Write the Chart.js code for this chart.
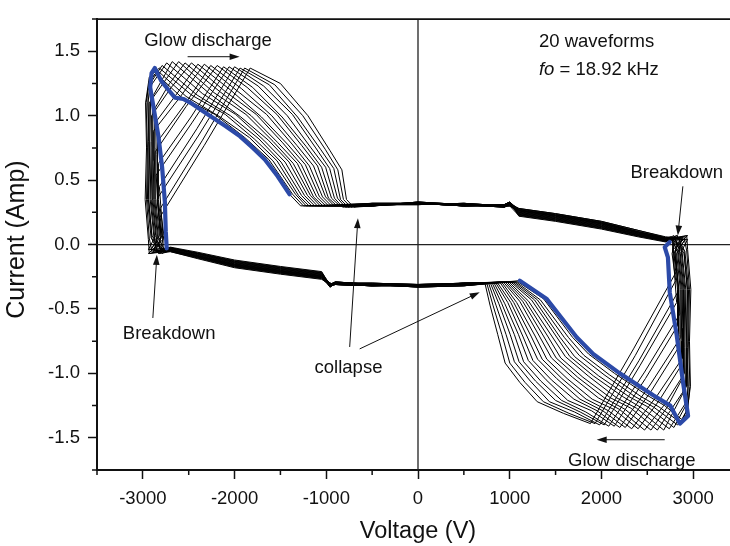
<!DOCTYPE html>
<html><head><meta charset="utf-8">
<script src="https://cdn.jsdelivr.net/npm/chart.js@4.4.0/dist/chart.umd.min.js"></script>
<style>
html,body{margin:0;padding:0;background:#fff;overflow:hidden;width:730px;height:546px;}
#wrap{position:absolute;left:0;top:0;width:739px;height:546px;}
</style></head><body>
<div id="wrap"><canvas id="c"></canvas></div>
<script>
// ---------------- data (voltage V, current A) ----------------
const xTickValues = [-3000,-2000,-1000,0,1000,2000,3000];
const xMinorTickValues = [-3500,-2500,-1500,-500,500,1500,2500,3500];
const yTickValues = [-1.5,-1.0,-0.5,0,0.5,1.0,1.5];
const yMinorTickValues = [-1.75,-1.25,-0.75,-0.25,0.25,0.75,1.25,1.75];

const wave00 = [[-2780,-0.06],[-2740,-0.03],[-2750,0.10],[-2760,0.33],[-2790,0.60],[-2830,0.84],[-2880,1.05],[-2920,1.22],[-2905,1.33],[-2870,1.37],[-2800,1.27],[-2720,1.20],[-2650,1.14],[-2560,1.13],[-2480,1.10],[-2270,1.00],[-2100,0.92],[-1940,0.84],[-1800,0.75],[-1670,0.66],[-1530,0.53],[-1400,0.39],[-1280,0.30],[-500,0.31],[0,0.32],[500,0.31],[940,0.30],[1000,0.32],[1100,0.25],[1500,0.21],[2000,0.15],[2400,0.08],[2700,0.04],[2745,0.02],[2690,-0.02],[2725,-0.10],[2745,-0.37],[2820,-0.70],[2890,-1.07],[2945,-1.33],[2855,-1.39],[2750,-1.25],[2565,-1.17],[2200,-1.00],[1910,-0.85],[1730,-0.72],[1400,-0.42],[1110,-0.28],[500,-0.32],[0,-0.33],[-500,-0.31],[-900,-0.29],[-960,-0.31],[-1050,-0.23],[-1500,-0.19],[-2000,-0.14],[-2400,-0.075],[-2700,-0.03]];
const wave01 = [[-2900,-0.06],[-2930,0.05],[-2960,0.35],[-2950,0.75],[-2965,1.10],[-2930,1.27],[-2860,1.33],[-2590,1.15],[-2214,1.01],[-1888,0.83],[-1626,0.66],[-1367,0.39],[-1249,0.30],[-500,0.30],[0,0.33],[500,0.31],[940,0.29],[1000,0.31],[1100,0.27],[1500,0.23],[2000,0.17],[2400,0.10],[2700,0.05],[2900,0.06],[2930,-0.05],[2960,-0.35],[2950,-0.75],[2965,-1.10],[2940,-1.28],[2880,-1.36],[2689,-1.25],[2498,-1.17],[2143,-1.00],[1860,-0.85],[1685,-0.72],[1368,-0.42],[1090,-0.29],[500,-0.31],[0,-0.31],[-500,-0.30],[-900,-0.30],[-960,-0.33],[-1050,-0.25],[-1500,-0.21],[-2000,-0.16],[-2400,-0.09],[-2700,-0.045]];
const wave02 = [[-2800,-0.04],[-2900,0.07],[-2940,0.35],[-2930,0.75],[-2945,1.10],[-2910,1.28],[-2840,1.35],[-2529,1.15],[-2157,0.99],[-1837,0.83],[-1582,0.65],[-1335,0.39],[-1219,0.30],[-500,0.32],[0,0.32],[500,0.30],[940,0.31],[1000,0.33],[1100,0.23],[1500,0.19],[2000,0.13],[2400,0.07],[2700,0.03],[2800,0.04],[2900,-0.07],[2940,-0.35],[2930,-0.75],[2945,-1.10],[2920,-1.30],[2860,-1.38],[2627,-1.26],[2432,-1.18],[2085,-1.01],[1809,-0.86],[1639,-0.72],[1335,-0.43],[1070,-0.29],[500,-0.30],[0,-0.32],[-500,-0.32],[-900,-0.31],[-960,-0.32],[-1050,-0.21],[-1500,-0.17],[-2000,-0.12],[-2400,-0.06],[-2700,-0.02]];
const wave03 = [[-2930,-0.07],[-2940,0.04],[-2975,0.35],[-2960,0.75],[-2970,1.10],[-2930,1.30],[-2820,1.37],[-2468,1.16],[-2101,1.01],[-1785,0.82],[-1537,0.65],[-1302,0.38],[-1188,0.30],[-500,0.31],[0,0.31],[500,0.32],[940,0.30],[1000,0.30],[1100,0.26],[1500,0.22],[2000,0.16],[2400,0.09],[2700,0.04],[2930,0.07],[2940,-0.04],[2975,-0.35],[2960,-0.75],[2970,-1.10],[2930,-1.32],[2830,-1.40],[2566,-1.26],[2365,-1.18],[2028,-1.01],[1758,-0.86],[1594,-0.72],[1303,-0.43],[1050,-0.29],[500,-0.31],[0,-0.32],[-500,-0.31],[-900,-0.30],[-960,-0.32],[-1050,-0.26],[-1500,-0.22],[-2000,-0.17],[-2400,-0.10],[-2700,-0.05]];
const wave04 = [[-2850,-0.05],[-2880,0.06],[-2920,0.35],[-2910,0.80],[-2920,1.25],[-2790,1.39],[-2408,1.16],[-2045,1.00],[-1734,0.82],[-1493,0.64],[-1269,0.38],[-1158,0.30],[-500,0.30],[0,0.32],[500,0.30],[940,0.30],[1000,0.32],[1100,0.28],[1500,0.24],[2000,0.18],[2400,0.11],[2700,0.06],[2850,0.05],[2880,-0.06],[2920,-0.35],[2910,-0.80],[2920,-1.25],[2790,-1.42],[2505,-1.26],[2299,-1.18],[1971,-1.02],[1708,-0.87],[1549,-0.72],[1271,-0.43],[1030,-0.29],[500,-0.30],[0,-0.31],[-500,-0.32],[-900,-0.31],[-960,-0.30],[-1050,-0.24],[-1500,-0.20],[-2000,-0.15],[-2400,-0.085],[-2700,-0.04]];
const wave05 = [[-2770,-0.06],[-2910,0.05],[-2950,0.35],[-2940,0.80],[-2945,1.20],[-2740,1.41],[-2347,1.17],[-1988,1.01],[-1682,0.81],[-1449,0.64],[-1237,0.38],[-1127,0.30],[-500,0.31],[0,0.32],[500,0.31],[940,0.30],[1000,0.32],[1100,0.24],[1500,0.20],[2000,0.14],[2400,0.08],[2700,0.03],[2770,0.06],[2910,-0.05],[2950,-0.35],[2940,-0.80],[2945,-1.20],[2740,-1.43],[2443,-1.27],[2232,-1.18],[1913,-1.02],[1657,-0.87],[1504,-0.71],[1238,-0.43],[1010,-0.29],[500,-0.32],[0,-0.33],[-500,-0.31],[-900,-0.29],[-960,-0.31],[-1050,-0.255],[-1500,-0.215],[-2000,-0.165],[-2400,-0.095],[-2700,-0.045]];
const wave06 = [[-2940,-0.04],[-2860,0.07],[-2900,0.35],[-2890,0.80],[-2895,1.15],[-2680,1.42],[-2287,1.18],[-1932,0.99],[-1631,0.81],[-1405,0.64],[-1204,0.38],[-1097,0.30],[-500,0.30],[0,0.33],[500,0.31],[940,0.29],[1000,0.31],[1100,0.265],[1500,0.225],[2000,0.165],[2400,0.095],[2700,0.05],[2940,0.04],[2860,-0.07],[2900,-0.35],[2890,-0.80],[2895,-1.15],[2680,-1.44],[2382,-1.27],[2166,-1.19],[1856,-1.02],[1607,-0.87],[1458,-0.71],[1206,-0.44],[990,-0.29],[500,-0.31],[0,-0.31],[-500,-0.30],[-900,-0.30],[-960,-0.33],[-1050,-0.22],[-1500,-0.18],[-2000,-0.13],[-2400,-0.07],[-2700,-0.025]];
const wave07 = [[-2820,-0.07],[-2900,0.04],[-2935,0.35],[-2925,0.80],[-2930,1.10],[-2610,1.42],[-2226,1.18],[-1876,1.01],[-1579,0.80],[-1361,0.63],[-1172,0.38],[-1066,0.30],[-500,0.32],[0,0.32],[500,0.30],[940,0.31],[1000,0.33],[1100,0.22],[1500,0.18],[2000,0.12],[2400,0.06],[2700,0.02],[2820,0.07],[2900,-0.04],[2935,-0.35],[2925,-0.80],[2930,-1.10],[2610,-1.44],[2321,-1.27],[2099,-1.19],[1798,-1.03],[1556,-0.88],[1413,-0.71],[1173,-0.44],[970,-0.29],[500,-0.30],[0,-0.32],[-500,-0.32],[-900,-0.31],[-960,-0.32],[-1050,-0.265],[-1500,-0.225],[-2000,-0.175],[-2400,-0.105],[-2700,-0.055]];
const wave08 = [[-2880,-0.05],[-2840,0.06],[-2880,0.35],[-2870,0.75],[-2875,1.05],[-2710,1.25],[-2540,1.41],[-2166,1.19],[-1819,1.00],[-1527,0.79],[-1316,0.63],[-1139,0.37],[-1036,0.30],[-500,0.31],[0,0.31],[500,0.32],[940,0.30],[1000,0.30],[1100,0.255],[1500,0.215],[2000,0.155],[2400,0.09],[2700,0.04],[2880,0.05],[2840,-0.06],[2880,-0.35],[2870,-0.75],[2875,-1.05],[2710,-1.27],[2540,-1.44],[2259,-1.28],[2032,-1.19],[1741,-1.03],[1506,-0.88],[1368,-0.71],[1141,-0.44],[950,-0.29],[500,-0.31],[0,-0.32],[-500,-0.31],[-900,-0.30],[-960,-0.32],[-1050,-0.235],[-1500,-0.195],[-2000,-0.145],[-2400,-0.08],[-2700,-0.035]];
const wave09 = [[-2760,-0.06],[-2870,0.05],[-2910,0.35],[-2900,0.75],[-2905,1.00],[-2690,1.22],[-2470,1.41],[-2105,1.19],[-1763,1.01],[-1476,0.79],[-1272,0.62],[-1106,0.37],[-1005,0.30],[-500,0.30],[0,0.32],[500,0.30],[940,0.30],[1000,0.32],[1100,0.275],[1500,0.235],[2000,0.175],[2400,0.10],[2700,0.05],[2760,0.06],[2870,-0.05],[2910,-0.35],[2900,-0.75],[2905,-1.00],[2690,-1.24],[2470,-1.44],[2198,-1.28],[1966,-1.19],[1684,-1.03],[1455,-0.88],[1323,-0.71],[1109,-0.44],[930,-0.29],[500,-0.30],[0,-0.31],[-500,-0.32],[-900,-0.31],[-960,-0.30],[-1050,-0.245],[-1500,-0.205],[-2000,-0.155],[-2400,-0.09],[-2700,-0.04]];
const wave10 = [[-2910,-0.04],[-2820,0.07],[-2860,0.35],[-2855,0.70],[-2860,0.95],[-2630,1.17],[-2400,1.40],[-2045,1.20],[-1707,0.99],[-1424,0.78],[-1228,0.62],[-1074,0.37],[-975,0.30],[-500,0.31],[0,0.32],[500,0.31],[940,0.30],[1000,0.32],[1100,0.235],[1500,0.195],[2000,0.135],[2400,0.07],[2700,0.03],[2910,0.04],[2820,-0.07],[2860,-0.35],[2855,-0.70],[2860,-0.95],[2630,-1.21],[2400,-1.43],[2137,-1.28],[1899,-1.20],[1626,-1.04],[1405,-0.89],[1277,-0.71],[1076,-0.45],[910,-0.29],[500,-0.32],[0,-0.33],[-500,-0.31],[-900,-0.29],[-960,-0.31],[-1050,-0.27],[-1500,-0.23],[-2000,-0.18],[-2400,-0.11],[-2700,-0.055]];
const wave11 = [[-2790,-0.07],[-2850,0.04],[-2890,0.35],[-2880,0.65],[-2885,0.88],[-2610,1.13],[-2330,1.40],[-1984,1.20],[-1651,1.01],[-1373,0.78],[-1184,0.61],[-1041,0.37],[-944,0.30],[-500,0.30],[0,0.33],[500,0.31],[940,0.29],[1000,0.31],[1100,0.245],[1500,0.205],[2000,0.145],[2400,0.08],[2700,0.035],[2790,0.07],[2850,-0.04],[2890,-0.35],[2880,-0.65],[2885,-0.88],[2610,-1.17],[2330,-1.43],[2076,-1.29],[1833,-1.20],[1569,-1.04],[1354,-0.89],[1232,-0.71],[1044,-0.45],[890,-0.29],[500,-0.31],[0,-0.31],[-500,-0.30],[-900,-0.30],[-960,-0.33],[-1050,-0.225],[-1500,-0.185],[-2000,-0.135],[-2400,-0.07],[-2700,-0.03]];
const wave12 = [[-2860,-0.05],[-2800,0.06],[-2845,0.35],[-2840,0.80],[-2550,1.08],[-2260,1.39],[-1924,1.21],[-1594,1.00],[-1321,0.77],[-1139,0.61],[-1008,0.37],[-914,0.30],[-500,0.32],[0,0.32],[500,0.30],[940,0.31],[1000,0.33],[1100,0.27],[1500,0.23],[2000,0.17],[2400,0.10],[2700,0.05],[2860,0.05],[2800,-0.06],[2845,-0.35],[2840,-0.80],[2550,-1.13],[2260,-1.42],[2014,-1.29],[1766,-1.20],[1512,-1.04],[1304,-0.89],[1187,-0.71],[1012,-0.45],[870,-0.30],[500,-0.30],[0,-0.32],[-500,-0.32],[-900,-0.31],[-960,-0.32],[-1050,-0.25],[-1500,-0.21],[-2000,-0.16],[-2400,-0.09],[-2700,-0.045]];
const wave13 = [[-2750,-0.06],[-2830,0.05],[-2870,0.35],[-2865,0.72],[-2530,1.07],[-2190,1.39],[-1863,1.22],[-1538,1.01],[-1269,0.77],[-1095,0.61],[-976,0.36],[-883,0.30],[-500,0.31],[0,0.31],[500,0.32],[940,0.30],[1000,0.30],[1100,0.225],[1500,0.185],[2000,0.125],[2400,0.065],[2700,0.025],[2750,0.06],[2830,-0.05],[2870,-0.35],[2865,-0.72],[2530,-1.09],[2200,-1.42],[1953,-1.29],[1700,-1.20],[1454,-1.05],[1253,-0.90],[1142,-0.71],[979,-0.45],[850,-0.30],[500,-0.31],[0,-0.32],[-500,-0.31],[-900,-0.30],[-960,-0.32],[-1050,-0.23],[-1500,-0.19],[-2000,-0.14],[-2400,-0.075],[-2700,-0.03]];
const wave14 = [[-2920,-0.04],[-2790,0.07],[-2830,0.35],[-2830,0.63],[-2475,0.99],[-2120,1.38],[-1803,1.22],[-1482,0.99],[-1218,0.76],[-1051,0.60],[-943,0.36],[-853,0.30],[-500,0.30],[0,0.32],[500,0.30],[940,0.30],[1000,0.32],[1100,0.26],[1500,0.22],[2000,0.16],[2400,0.09],[2700,0.045],[2920,0.04],[2790,-0.07],[2830,-0.35],[2830,-0.63],[2480,-1.04],[2140,-1.41],[1892,-1.29],[1633,-1.21],[1397,-1.05],[1203,-0.90],[1096,-0.70],[947,-0.46],[830,-0.30],[500,-0.30],[0,-0.31],[-500,-0.32],[-900,-0.31],[-960,-0.30],[-1050,-0.26],[-1500,-0.22],[-2000,-0.17],[-2400,-0.10],[-2700,-0.05]];
const wave15 = [[-2830,-0.07],[-2810,0.04],[-2855,0.54],[-2460,0.95],[-2060,1.38],[-1742,1.23],[-1425,1.00],[-1166,0.75],[-1007,0.60],[-911,0.36],[-822,0.29],[-500,0.31],[0,0.32],[500,0.31],[940,0.30],[1000,0.32],[1100,0.25],[1500,0.21],[2000,0.15],[2400,0.085],[2700,0.04],[2830,0.07],[2810,-0.04],[2855,-0.54],[2470,-0.99],[2080,-1.41],[1830,-1.30],[1566,-1.21],[1339,-1.06],[1152,-0.91],[1051,-0.70],[914,-0.46],[810,-0.30],[500,-0.32],[0,-0.33],[-500,-0.31],[-900,-0.29],[-960,-0.31],[-1050,-0.215],[-1500,-0.175],[-2000,-0.125],[-2400,-0.065],[-2700,-0.025]];
const wave16 = [[-2780,-0.05],[-2780,0.06],[-2820,0.45],[-2410,0.90],[-2000,1.38],[-1682,1.23],[-1369,1.01],[-1115,0.75],[-963,0.59],[-878,0.36],[-792,0.29],[-500,0.30],[0,0.33],[500,0.31],[940,0.29],[1000,0.31],[1100,0.28],[1500,0.24],[2000,0.18],[2400,0.11],[2700,0.055],[2780,0.05],[2780,-0.06],[2820,-0.45],[2420,-0.94],[2030,-1.40],[1769,-1.30],[1500,-1.21],[1282,-1.06],[1102,-0.91],[1006,-0.70],[882,-0.46],[790,-0.30],[500,-0.31],[0,-0.31],[-500,-0.30],[-900,-0.30],[-960,-0.33],[-1050,-0.24],[-1500,-0.20],[-2000,-0.15],[-2400,-0.085],[-2700,-0.04]];
const wave17 = [[-2890,-0.06],[-2800,0.05],[-2840,0.36],[-2390,0.85],[-1940,1.37],[-1621,1.24],[-1313,0.99],[-1063,0.74],[-918,0.59],[-845,0.35],[-761,0.29],[-500,0.32],[0,0.32],[500,0.30],[940,0.31],[1000,0.33],[1100,0.24],[1500,0.20],[2000,0.14],[2400,0.075],[2700,0.03],[2890,0.06],[2800,-0.05],[2840,-0.36],[2410,-0.90],[1980,-1.40],[1708,-1.30],[1433,-1.22],[1225,-1.06],[1051,-0.91],[961,-0.70],[850,-0.47],[770,-0.30],[500,-0.30],[0,-0.32],[-500,-0.32],[-900,-0.31],[-960,-0.32],[-1050,-0.255],[-1500,-0.215],[-2000,-0.165],[-2400,-0.095],[-2700,-0.045]];
const wave18 = [[-2810,-0.04],[-2770,0.07],[-2810,0.28],[-2350,0.81],[-1890,1.37],[-1561,1.24],[-1256,1.00],[-1012,0.74],[-874,0.58],[-813,0.35],[-731,0.29],[-500,0.31],[0,0.31],[500,0.32],[940,0.30],[1000,0.30],[1100,0.265],[1500,0.225],[2000,0.165],[2400,0.095],[2700,0.05],[2810,0.04],[2770,-0.07],[2810,-0.28],[2370,-0.86],[1930,-1.39],[1646,-1.31],[1367,-1.22],[1167,-1.07],[1001,-0.92],[915,-0.70],[817,-0.47],[750,-0.30],[500,-0.31],[0,-0.32],[-500,-0.31],[-900,-0.30],[-960,-0.32],[-1050,-0.22],[-1500,-0.18],[-2000,-0.13],[-2400,-0.07],[-2700,-0.025]];
const wave19 = [[-2940,-0.07],[-2780,0.04],[-2825,0.20],[-2330,0.77],[-1830,1.37],[-1500,1.25],[-1200,1.00],[-960,0.73],[-830,0.58],[-780,0.35],[-700,0.29],[-500,0.30],[0,0.32],[500,0.30],[940,0.30],[1000,0.32],[1100,0.23],[1500,0.19],[2000,0.13],[2400,0.07],[2700,0.025],[2940,0.07],[2780,-0.04],[2825,-0.20],[2350,-0.81],[1880,-1.39],[1585,-1.31],[1300,-1.22],[1110,-1.07],[950,-0.92],[870,-0.70],[785,-0.47],[730,-0.30],[500,-0.30],[0,-0.31],[-500,-0.32],[-900,-0.31],[-960,-0.30],[-1050,-0.245],[-1500,-0.205],[-2000,-0.155],[-2400,-0.09],[-2700,-0.04]];

// highlighted (blue) waveform, discharge portions
const blueUpper = [[-2740,-0.03],[-2750,0.10],[-2760,0.33],[-2790,0.60],[-2830,0.84],[-2880,1.05],[-2920,1.22],[-2905,1.33],[-2870,1.37],[-2800,1.27],[-2720,1.20],[-2650,1.14],[-2560,1.13],[-2480,1.10],[-2270,1.00],[-2100,0.92],[-1940,0.84],[-1800,0.75],[-1670,0.66],[-1530,0.53],[-1400,0.39]];
const blueLower = [[2745,0.02],[2690,-0.02],[2725,-0.10],[2745,-0.37],[2820,-0.70],[2890,-1.07],[2945,-1.33],[2855,-1.39],[2750,-1.25],[2565,-1.17],[2200,-1.00],[1910,-0.85],[1730,-0.72],[1400,-0.42],[1110,-0.28]];

const waveList = [wave00,wave01,wave02,wave03,wave04,wave05,wave06,wave07,wave08,wave09,
                  wave10,wave11,wave12,wave13,wave14,wave15,wave16,wave17,wave18,wave19];

// ---------------- chart ----------------
const FONT = "'Liberation Sans', Arial, Helvetica, sans-serif";
const TXT = '#111';
const toXY = arr => arr.map(p => ({x: p[0], y: p[1]}));

const datasets = [];
waveList.forEach(w => datasets.push({
  data: toXY(w.concat([w[0]])), showLine: true, borderColor: '#000', borderWidth: 1.0,
  pointRadius: 0, tension: 0, fill: false, order: 2
}));
[blueUpper, blueLower].forEach(b => datasets.push({
  data: toXY(b), showLine: true, borderColor: '#2c4aa8', borderWidth: 4.2,
  borderCapStyle: 'round', borderJoinStyle: 'round',
  pointRadius: 0, tension: 0, fill: false, order: 1
}));

function arrow(ctx, x1, y1, x2, y2) {
  const a = Math.atan2(y2 - y1, x2 - x1), L = 10, W = 3.3;
  ctx.beginPath(); ctx.moveTo(x1, y1);
  ctx.lineTo(x2 - L * 0.7 * Math.cos(a), y2 - L * 0.7 * Math.sin(a)); ctx.stroke();
  ctx.beginPath(); ctx.moveTo(x2, y2);
  ctx.lineTo(x2 - L * Math.cos(a) + W * Math.sin(a), y2 - L * Math.sin(a) - W * Math.cos(a));
  ctx.lineTo(x2 - L * Math.cos(a) - W * Math.sin(a), y2 - L * Math.sin(a) + W * Math.cos(a));
  ctx.closePath(); ctx.fill();
}

const labels = [
  {text: 'Glow discharge', x: -2985, y: 1.544},
  {text: '20 waveforms', x: 1319, y: 1.53},
  {text: 'Breakdown', x: 2316, y: 0.517},
  {text: 'Breakdown', x: -3218, y: -0.733},
  {text: 'collapse', x: -1128, y: -1.0},
  {text: 'Glow discharge', x: 1636, y: -1.72}
];
const arrows = [
  [-2512, 1.458, -1945, 1.458],
  [2888, 0.452, 2833, 0.07],
  [-2891, -0.57, -2847, -0.08],
  [-745, -0.795, -655, 0.205],
  [-636, -0.81, 673, -0.37],
  [2690, -1.515, 1948, -1.515]
];

const decor = {
  id: 'decor',
  beforeDatasetsDraw(chart) {
    const {ctx, chartArea: a, scales: {x, y}} = chart;
    ctx.save();
    ctx.strokeStyle = '#222'; ctx.lineWidth = 1.3;
    const y0 = y.getPixelForValue(0), x0 = x.getPixelForValue(0);
    ctx.beginPath();
    ctx.moveTo(a.left, y0); ctx.lineTo(a.right, y0);
    ctx.moveTo(x0, a.top); ctx.lineTo(x0, a.bottom);
    ctx.stroke();
    ctx.restore();
  },
  afterDraw(chart) {
    const {ctx, chartArea: a, scales: {x, y}} = chart;
    ctx.save();
    ctx.strokeStyle = TXT; ctx.fillStyle = TXT;
    // frame top/right
    ctx.lineWidth = 1.6;
    ctx.beginPath(); ctx.moveTo(a.left, a.top); ctx.lineTo(a.right, a.top); ctx.lineTo(a.right, a.bottom); ctx.stroke();
    // minor ticks
    ctx.lineWidth = 1.5;
    ctx.beginPath();
    xMinorTickValues.forEach(v => { const p = x.getPixelForValue(v); ctx.moveTo(p, a.bottom); ctx.lineTo(p, a.bottom + 5); });
    yMinorTickValues.forEach(v => { const p = y.getPixelForValue(v); ctx.moveTo(a.left, p); ctx.lineTo(a.left - 5, p); });
    ctx.stroke();
    // y axis title
    ctx.save();
    ctx.translate(17, (a.top + a.bottom) / 2 - 5);
    ctx.rotate(-Math.PI / 2);
    ctx.font = '25px ' + FONT; ctx.textAlign = 'center'; ctx.textBaseline = 'middle';
    ctx.fillText('Current (Amp)', 0, 0);
    ctx.restore();
    // annotations
    ctx.font = '18.5px ' + FONT;
    ctx.textBaseline = 'alphabetic'; ctx.textAlign = 'left';
    labels.forEach(l => ctx.fillText(l.text, x.getPixelForValue(l.x), y.getPixelForValue(l.y)));
    const fx = x.getPixelForValue(1319), fy = y.getPixelForValue(1.317);
    ctx.font = 'italic 18.5px ' + FONT;
    ctx.fillText('fo', fx, fy);
    const w = ctx.measureText('fo').width;
    ctx.font = '18.5px ' + FONT;
    ctx.fillText(' = 18.92 kHz', fx + w, fy);
    ctx.lineWidth = 1;
    arrows.forEach(r => arrow(ctx, x.getPixelForValue(r[0]), y.getPixelForValue(r[1]), x.getPixelForValue(r[2]), y.getPixelForValue(r[3])));
    ctx.restore();
  }
};

new Chart(document.getElementById('c'), {
  type: 'scatter',
  data: {datasets},
  plugins: [decor],
  options: {
    responsive: true, maintainAspectRatio: false, devicePixelRatio: 1, animation: false,
    layout: {padding: {top: 4, right: 0, bottom: 0, left: 0}},
    plugins: {legend: {display: false}, tooltip: {enabled: false}},
    scales: {
      x: {
        type: 'linear', min: -3500, max: 3500,
        afterBuildTicks: s => { s.ticks = xTickValues.map(v => ({value: v})); },
        afterFit: s => { s.height = 76; },
        ticks: {font: {family: FONT, size: 18.5}, color: TXT, padding: 9, maxRotation: 0, autoSkip: false, callback: v => String(v)},
        grid: {display: true, drawOnChartArea: false, drawTicks: true, tickLength: 9, tickColor: TXT, tickWidth: 1.5},
        border: {display: true, color: TXT, width: 2},
        title: {display: true, text: 'Voltage (V)', font: {family: FONT, size: 23.5}, color: TXT, padding: {top: 0, bottom: 0}}
      },
      y: {
        type: 'linear', min: -1.75, max: 1.75,
        afterBuildTicks: s => { s.ticks = yTickValues.map(v => ({value: v})); },
        afterFit: s => { s.width = 97; },
        ticks: {font: {family: FONT, size: 18.5}, color: TXT, padding: 8, autoSkip: false, callback: v => Number(v).toFixed(1)},
        grid: {display: true, drawOnChartArea: false, drawTicks: true, tickLength: 9, tickColor: TXT, tickWidth: 1.5},
        border: {display: true, color: TXT, width: 2},
        title: {display: false}
      }
    }
  }
});
</script>
</body></html>
